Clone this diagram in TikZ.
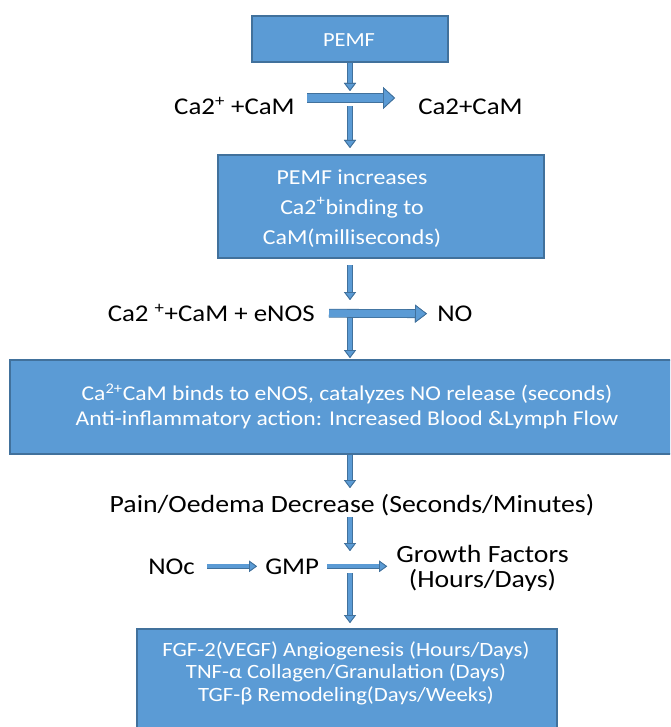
\documentclass[tikz,border=0pt]{standalone}
\usepackage{fontspec}
\setmainfont{Carlito}[FakeStretch=1.12]
\usetikzlibrary{arrows.meta}
\definecolor{boxblue}{HTML}{5B9BD5}
\definecolor{boxedge}{HTML}{41719C}
\begin{document}
\begin{tikzpicture}
  [x=0.75pt, y=-0.75pt,
   stepbox/.style={draw=boxedge, fill=boxblue, line width=0.9pt, inner sep=0pt},
   boxtext/.style={text=white, align=center, inner sep=0pt, anchor=base},
   tag/.style={font=\fontsize{18}{18.75}\selectfont, inner sep=0pt, align=center},
   bigtag/.style={tag, font=\fontsize{18.6}{18.75}\selectfont},
   blockarrow/.style n args={3}{draw=boxblue, line width=#1,
     -{Triangle[length=#3, width=#2, fill=boxblue, color=boxedge, line width=0.6pt]},
     preaction={draw=boxedge, line width=#1+1.2pt}},
   vflow/.style={blockarrow={3.4pt}{9pt}{6pt}},
   bigflow/.style={blockarrow={6.6pt}{16.5pt}{9pt}},
   midflow/.style={blockarrow={5.4pt}{13.5pt}{9pt}},
   thinflow/.style={blockarrow={2.8pt}{8.5pt}{6pt}}]

  \path[use as bounding box, clip] (0,0) rectangle (670,727);

  % Kästen
  \node[stepbox, minimum width=147pt, minimum height=34.5pt] (pemf) at (350,39) {};
  \node[stepbox, minimum width=244.5pt, minimum height=77.25pt] (bind) at (381,206.5) {};
  \node[stepbox, minimum width=496.5pt, minimum height=70.5pt] (enosbox) at (341,407) {};
  \node[stepbox, minimum width=315pt, minimum height=84pt] (growbox) at (347,685) {};

  % Texte in den Kästen
  \node[boxtext, font=\fontsize{15}{22.5}\selectfont] (pemftxt) at (349,46.7) {PEMF};
  \node[boxtext, font=\fontsize{16}{22.5}\selectfont] (bindtxt) at (352,244)
    {PEMF increases\\Ca2\textsuperscript{+}binding to\\CaM(milliseconds)};
  \node[boxtext, font=\fontsize{15.8}{18.75}\selectfont] (enostxt) at (347,425)
    {Ca\textsuperscript{2+}CaM binds to eNOS, catalyzes NO release (seconds)\\Anti-inflammatory action: Increased Blood \&Lymph Flow};
  \node[boxtext, font=\fontsize{15.2}{16.75}\selectfont] (growtxt) at (346,701)
    {FGF-2(VEGF) Angiogenesis (Hours/Days)\\TNF-α Collagen/Granulation (Days)\\TGF-β Remodeling(Days/Weeks)};

  % Beschriftungen
  \node[tag, anchor=base east] (caone) at (295,115) {Ca2\textsuperscript{+} +CaM};
  \node[tag, anchor=base west] (catwo) at (418,115) {Ca2+CaM};
  \node[tag, anchor=base east] (enos) at (315,321.5) {Ca2 \textsuperscript{+}+CaM + eNOS};
  \node[tag, anchor=base west] (no) at (437,321.5) {NO};
  \node[bigtag, anchor=base] (pain) at (352,512) {Pain/Oedema Decrease (Seconds/Minutes)};
  \node[tag, anchor=base west] (noc) at (148,574) {NOc};
  \node[tag, anchor=base west] (gmp) at (265,574) {GMP};
  \node[bigtag, anchor=base] (growth) at (482.5,587) {Growth Factors\\(Hours/Days)};

  % Enden der Pfeile
  \coordinate (a1) at (350,91);
  \coordinate (a2) at (350,106);
  \coordinate (a3) at (350,148);
  \coordinate (a4) at (350,265);
  \coordinate (a5) at (350,300);
  \coordinate (a6) at (350,318);
  \coordinate (a7) at (350,358);
  \coordinate (a8) at (350,455);
  \coordinate (a9) at (350,488);
  \coordinate (a10) at (350,517);
  \coordinate (a11) at (350,551);
  \coordinate (a12) at (350,573);
  \coordinate (a13) at (350,623);
  \coordinate (h1) at (307,98);
  \coordinate (h2) at (395,98);

  % Pfeile nach unten
  \draw[vflow] (pemf.south) -- (a1);
  \foreach \from/\to in {a2/a3, a4/a5, a6/a7, a8/a9, a10/a11, a12/a13}
    \draw[vflow] (\from) -- (\to);

  % Pfeile nach rechts
  \draw[bigflow] (h1) -- (h2);
  \draw[midflow, shorten <=10.5pt, shorten >=7.5pt] (enos) -- (no);
  \draw[thinflow, shorten <=9pt, shorten >=6pt] (noc) -- (gmp);
  \draw[thinflow, shorten <=6pt, shorten >=6.75pt] (gmp) -- (growth.west |- gmp);
\end{tikzpicture}
\end{document}
